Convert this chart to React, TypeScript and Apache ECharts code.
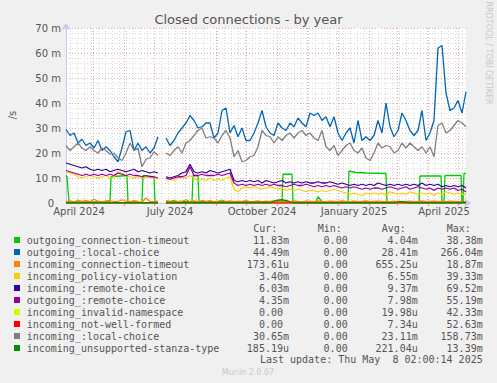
import React, { useEffect, useRef } from "react";
import * as echarts from "echarts";

// ---- time axis: one category per day, first day 2024-04-04 ----
const START_UTC = Date.UTC(2024, 3, 4);
const DAY_COUNT = 401;
const CATEGORIES: string[] = [];
const WEEKDAYS: number[] = [];
for (let i = 0; i < DAY_COUNT; i++) {
  const d = new Date(START_UTC + i * 86400000);
  CATEGORIES.push(d.toISOString().slice(0, 10));
  WEEKDAYS.push(d.getUTCDay());
}
const X_LABEL_DAYS = [13, 104, 196, 288, 378];
const X_LABELS = ["April 2024", "July 2024", "October 2024", "January 2025", "April 2025"];

// sample days of the dense series (before / after the data gap)
const DAYS_A: number[] = [];
for (let d = 0; d <= 92; d += 4) DAYS_A.push(d);
const DAYS_B: number[] = [];
for (let d = 100; d <= 400; d += 4) DAYS_B.push(d);
const GAP_DAY = 96;

// ---- series values (milli per second) ----
const BLUE_A = [29.5, 27, 28, 24, 25.5, 23, 24, 22, 25, 21, 22.5, 21, 18.5, 16.5, 22, 28.5, 29, 21, 24, 21, 22.5, 20, 22, 26.5];
const BLUE_B = [
  26, 23, 25, 28, 30, 32, 35, 33, 30, 30.5,
  32, 32, 26, 28, 37, 38, 28, 31, 26.5, 30,
  25, 25, 28, 32, 37, 30.5, 28, 27, 32, 30,
  29, 32, 30.5, 34, 32, 30.5, 36, 35, 36, 33,
  34.5, 30.5, 34.5, 28, 25, 28, 30, 24, 33, 25,
  26.5, 25, 27, 33, 28, 40, 30.5, 26.5, 29, 36,
  33, 29, 27, 29, 37, 25, 28, 33, 62, 63,
  44, 37, 38, 41, 36, 44.5,
];
const GRAY_A = [23, 21, 22.5, 24, 22, 21, 22.5, 21, 20, 22, 21, 19.5, 20, 18, 17, 20, 24, 21, 22, 14.5, 17.5, 18, 20.5, 19];
const GRAY_B = [
  20, 19, 21, 22.5, 20, 24, 25, 27, 29, 30,
  26, 26.5, 26, 24, 27, 29, 26, 18.5, 21, 16.5,
  17, 18.5, 19, 22.5, 29, 27, 26.5, 24, 26.5, 25,
  27, 28, 26, 28, 29, 27, 28, 26, 25, 29,
  22.5, 21, 23, 19, 21, 23, 24, 21, 20, 22,
  18, 17, 20, 24, 22, 23, 22.5, 20, 21, 24,
  22, 24, 22.5, 21, 22.5, 20, 22.5, 18.5, 31, 32,
  28, 29, 31, 33, 32, 30.5,
];
const INDIGO_A = [16, 15.5, 15, 14.5, 14, 14.5, 13.5, 13, 13.5, 13, 13.5, 12.5, 13, 13.5, 13, 12.5, 13, 13.5, 12.5, 13, 12.5, 12, 12.5, 12];
const INDIGO_B = [
  10.5, 10, 10.5, 11, 12, 12.5, 15.5, 12.5, 12, 12.5,
  12, 13, 12.5, 12, 12.5, 13, 13.5, 9, 8.5, 9,
  8.5, 9, 8.5, 9, 8, 9, 8.5, 8, 8.5, 9,
  8, 8.5, 8, 8.5, 8, 8.5, 8, 8, 8.5, 8,
  8, 8.5, 8, 7.5, 8, 7.5, 7, 7.5, 7, 7.5,
  7, 7.5, 7, 8, 7.5, 7, 7.5, 7, 7.5, 7,
  7.5, 7, 7.5, 7, 8, 7, 7.5, 7, 7.5, 6.5,
  7, 6.5, 7, 6.5, 7, 6,
];
const PURPLE_A = [13, 12.5, 12, 11.5, 11, 11.5, 11, 11.5, 11, 11.5, 11, 11.5, 11, 12, 11.5, 11, 11.5, 11, 11, 10.5, 11, 10.5, 10.5, 10];
const PURPLE_B = [
  10, 9.5, 10, 10.5, 10.5, 11, 14.5, 11, 11, 11.5,
  11, 11, 11, 11.5, 11, 11.5, 12, 8, 7, 7.5,
  7, 7.5, 7, 7.5, 7, 7.5, 7, 7.5, 7, 7,
  6.5, 7, 7.5, 7, 7, 7.5, 7, 6.5, 7, 6.5,
  7, 6.5, 7, 6.5, 6, 6.5, 6, 6.5, 6, 5.5,
  6, 5.5, 6, 6, 5.5, 6, 6.5, 6, 5.5, 6,
  6.5, 5.5, 6, 6.5, 6, 5.5, 6, 5, 6, 5.5,
  6, 5.5, 6, 5, 5.5, 4.4,
];
const YELLOW_A = [12.5, 12, 11.5, 10.5, 10, 10.5, 11, 10.5, 10, 10.5, 11, 10, 10.5, 12.5, 12, 11, 10.5, 10, 10.5, 10.5, 10, 10.5, 10, 9.5];
const YELLOW_B = [
  9, 9.5, 9, 10, 10.5, 10, 11, 10, 9, 9.5,
  9, 10, 9, 9.5, 9, 10, 10.5, 5.5, 4.5, 6,
  6.5, 6, 6.5, 6, 5.5, 6, 6.5, 6, 5.5, 6,
  5, 5.5, 5, 5.5, 5, 4.5, 5, 5, 4.5, 5,
  4.5, 5, 5.5, 5, 4.5, 4, 3.5, 4, 3.5, 3,
  4, 3.5, 4, 3.5, 4, 3, 4.5, 4, 3.5, 4,
  3.5, 4.5, 4, 3.5, 4, 3.5, 4, 3, 4, 3.5,
  4.5, 4, 3.5, 4, 3.5, 3.4,
];
const ORANGE_A = [0.5, 0.8, 0.4, 1.2, 0.6, 0.9, 0.5, 1.5, 0.7, 0.4, 0.8, 1.0, 0.5, 0.6, 1.3, 0.7, 0.5, 0.9, 0.6, 0.4, 2.0, 0.6, 0.5, 0.7];
const ORANGE_B = [
  0.9, 0.6, 1.1, 0.5, 0.7, 1.3, 0.6, 0.8, 0.5, 1.0,
  0.6, 0.9, 0.5, 0.7, 1.2, 0.6, 0.8, 0.5, 0.7, 0.6,
  0.9, 0.5, 0.6, 0.8, 0.5, 0.7, 0.6, 0.9, 0.5, 0.6,
  0.7, 0.5, 0.8, 0.6, 0.5, 0.7, 0.6, 0.5, 0.8, 0.6,
  0.5, 0.7, 0.6, 0.5, 0.8, 0.6, 0.5, 0.7, 0.5, 0.6,
  0.8, 0.5, 0.6, 0.7, 0.5, 0.6, 0.5, 0.7, 0.6, 0.5,
  0.6, 0.7, 0.5, 0.6, 0.8, 0.5, 0.6, 0.7, 0.5, 0.6,
  0.5, 0.7, 0.6, 0.5, 0.6, 0.17,
];
// step-like series: [day, value] break points
const GREEN_STEPS: [number, number | string][] = [
  [0, 11], [1, 10.5], [3, 0.4], [44, 0.4], [45, 10.5], [61, 11], [62, 0.4], [76, 0.4], [77, 11], [88, 10.5], [89, 0.3], [92, 0.3],
  [96, "-"],
  [100, 0.6], [126, 0.5], [127, 11], [132, 11], [133, 0.5], [216, 0.5], [217, 11.5], [226, 11.5], [227, 0.5],
  [250, 0.5], [252, 2.5], [256, 0.5], [282, 0.5], [283, 12.8], [290, 12.2], [300, 12], [320, 11.8], [321, 0.3],
  [353, 0.3], [354, 10.8], [375, 10.8], [376, 0.3], [378, 0.3], [379, 11], [395, 11], [396, 0.3], [397, 0.3], [398, 11.8], [400, 11.83],
];
const DKGREEN_STEPS: [number, number | string][] = [
  [0, 0.1], [92, 0.1], [96, "-"], [100, 0.1], [205, 0.2], [210, 1.0], [216, 1.3], [222, 0.8], [227, 0.1],
  [330, 0.1], [333, 0.6], [338, 0.4], [342, 0.1], [395, 0.1], [398, 0.4], [400, 0.19],
];
const LIME_STEPS: [number, number | string][] = [
  [0, 0], [70, 0], [74, 0.4], [78, 0], [92, 0], [96, "-"], [100, 0], [400, 0],
];
const RED_STEPS: [number, number | string][] = [[0, 0], [92, 0], [96, "-"], [100, 0], [400, 0]];

// ---- legend table ----
const NAMES = [
  "outgoing_connection-timeout", "outgoing_:local-choice", "incoming_connection-timeout", "incoming_policy-violation",
  "incoming_:remote-choice", "outgoing_:remote-choice", "incoming_invalid-namespace", "incoming_not-well-formed",
  "incoming_:local-choice", "incoming_unsupported-stanza-type",
];
const COLORS = ["#00CC00", "#0066B3", "#FF8000", "#FFCC00", "#330099", "#990099", "#CCFF00", "#FF0000", "#808080", "#008F00"];
const CUR = ["11.83m", "44.49m", "173.61u", "3.40m", "6.03m", "4.35m", "0.00", "0.00", "30.65m", "185.19u"];
const MIN = ["0.00", "0.00", "0.00", "0.00", "0.00", "0.00", "0.00", "0.00", "0.00", "0.00"];
const AVG = ["4.04m", "28.41m", "655.25u", "6.55m", "9.37m", "7.98m", "19.98u", "7.34u", "23.11m", "221.04u"];
const MAX = ["38.38m", "266.04m", "18.87m", "39.33m", "69.52m", "55.19m", "42.33m", "52.63m", "158.73m", "13.39m"];

const dense = (a: number[], b: number[]) => [
  ...DAYS_A.map((d, i) => [d, a[i]]),
  [GAP_DAY, "-"],
  ...DAYS_B.map((d, i) => [d, b[i]]),
];

const SERIES_DATA: any[] = [
  GREEN_STEPS,
  dense(BLUE_A, BLUE_B),
  dense(ORANGE_A, ORANGE_B),
  dense(YELLOW_A, YELLOW_B),
  dense(INDIGO_A, INDIGO_B),
  dense(PURPLE_A, PURPLE_B),
  LIME_STEPS,
  RED_STEPS,
  dense(GRAY_A, GRAY_B),
  DKGREEN_STEPS,
];

const TXT = "#555555";
const MONO = "DejaVu Sans Mono";
const SANS = "DejaVu Sans";

export default function App() {
  const ref = useRef<HTMLDivElement>(null);
  useEffect(() => {
    if (!ref.current) return;
    const chart = echarts.init(ref.current, null, { renderer: "svg" });
    const isMonthStart = (i: number) => CATEGORIES[i] !== undefined && CATEGORIES[i].endsWith("-01");
    const isMonday = (i: number) => WEEKDAYS[i] === 1;

    const graphic: any[] = [
      { type: "text", x: 248.5, y: 19, style: { text: "Closed connections - by year", font: `13px ${SANS}`, fill: TXT, textAlign: "center", textVerticalAlign: "middle" } },
      { type: "text", x: 12, y: 115, rotation: Math.PI / 2, style: { text: "/s", font: `10px ${SANS}`, fill: TXT, textAlign: "center", textVerticalAlign: "middle" } },
      { type: "text", x: 488, y: 53, rotation: -Math.PI / 2, style: { text: "RRDTOOL / TOBI OETIKER", font: `8px ${SANS}`, fill: "#c8c8c8", textAlign: "center", textVerticalAlign: "middle" } },
      { type: "text", x: 253.3, y: 228, style: { text: "Cur:", font: `10px ${MONO}`, fill: TXT, textAlign: "left", textVerticalAlign: "middle" } },
      { type: "text", x: 317.7, y: 228, style: { text: "Min:", font: `10px ${MONO}`, fill: TXT, textAlign: "left", textVerticalAlign: "middle" } },
      { type: "text", x: 381.7, y: 228, style: { text: "Avg:", font: `10px ${MONO}`, fill: TXT, textAlign: "left", textVerticalAlign: "middle" } },
      { type: "text", x: 446.7, y: 228, style: { text: "Max:", font: `10px ${MONO}`, fill: TXT, textAlign: "left", textVerticalAlign: "middle" } },
      { type: "text", x: 482.7, y: 359.5, style: { text: "Last update: Thu May  8 02:00:14 2025", font: `10px ${MONO}`, fill: TXT, textAlign: "right", textVerticalAlign: "middle" } },
      { type: "text", x: 248, y: 372.5, style: { text: "Munin 2.0.67", font: `8px ${SANS}`, fill: "#c8c8c8", textAlign: "center", textVerticalAlign: "middle" } },
    ];
    const colRight = [289, 353.7, 417.7, 482.7];
    const valRight = (s: string, col: number) => (/[a-z]$/.test(s) ? colRight[col] : colRight[col] - 6.02);
    NAMES.forEach((name, i) => {
      const y = 240 + 12 * i;
      graphic.push({ type: "rect", shape: { x: 14, y: y - 3, width: 6, height: 6 }, style: { fill: COLORS[i] } });
      graphic.push({ type: "text", x: 26.7, y, style: { text: name, font: `10px ${MONO}`, fill: TXT, textAlign: "left", textVerticalAlign: "middle" } });
      [CUR[i], MIN[i], AVG[i], MAX[i]].forEach((v, c) => {
        graphic.push({ type: "text", x: valRight(v, c), y, style: { text: v, font: `10px ${MONO}`, fill: TXT, textAlign: "right", textVerticalAlign: "middle" } });
      });
    });

    chart.setOption({
      animation: false,
      backgroundColor: "#F0F0F0",
      grid: { left: 66, right: 31, top: 28, bottom: 180, show: true, backgroundColor: "#FFFFFF", borderWidth: 0 },
      xAxis: [
        {
          type: "category",
          data: CATEGORIES,
          boundaryGap: false,
          z: 2,
          axisLine: { show: true, lineStyle: { color: "#c8c8ea", width: 1 }, symbol: ["none", "arrow"], symbolSize: [7, 7], symbolOffset: [0, 5] },
          axisTick: { show: true, interval: (i: number) => isMonthStart(i), length: 3, lineStyle: { color: "#e69090" } },
          axisLabel: {
            interval: (i: number) => X_LABEL_DAYS.includes(i),
            formatter: (_v: string, i: number) => { const k = X_LABEL_DAYS.indexOf(i); return k >= 0 ? X_LABELS[k] : ""; },
            color: TXT, fontSize: 10, fontFamily: SANS, margin: 3, hideOverlap: false,
          },
          splitLine: { show: true, interval: (i: number) => isMonthStart(i), lineStyle: { color: "#e8a8a8", type: [1, 2] } },
        },
        {
          type: "category",
          data: CATEGORIES,
          boundaryGap: false,
          position: "bottom",
          z: 1,
          axisLine: { show: false },
          axisTick: { show: false },
          axisLabel: { show: false },
          splitLine: { show: true, interval: (i: number) => isMonday(i), lineStyle: { color: "#d8d8d8", type: [1, 2] } },
        },
      ],
      yAxis: {
        type: "value",
        min: 0,
        max: 70,
        interval: 10,
        axisLine: { show: true, lineStyle: { color: "#c8c8ea", width: 1 }, symbol: ["none", "arrow"], symbolSize: [7, 7], symbolOffset: [0, 5] },
        axisTick: { show: false },
        axisLabel: {
          formatter: (v: number) => (v === 0 ? "{z|0}" : `${v} m`),
          color: TXT, fontSize: 10, fontFamily: SANS, margin: 5,
          rich: { z: { color: TXT, fontSize: 10, fontFamily: SANS, padding: [0, 7, 0, 0] } },
        },
        splitLine: { show: true, lineStyle: { color: "#e8a8a8", type: [1, 2] } },
        minorTick: { show: false, splitNumber: 5 },
        minorSplitLine: { show: true, lineStyle: { color: "#dadada", type: [1, 2] } },
      },
      series: SERIES_DATA.map((data, i) => ({
        type: "line",
        name: NAMES[i],
        data,
        xAxisIndex: 0,
        showSymbol: false,
        symbol: "none",
        connectNulls: false,
        silent: true,
        lineStyle: { color: COLORS[i], width: 1.3 },
        itemStyle: { color: COLORS[i] },
        z: 3,
      })),
      graphic,
    });
    return () => chart.dispose();
  }, []);
  return <div ref={ref} style={{ position: "fixed", left: 0, top: 0, width: 497, height: 383 }} />;
}
